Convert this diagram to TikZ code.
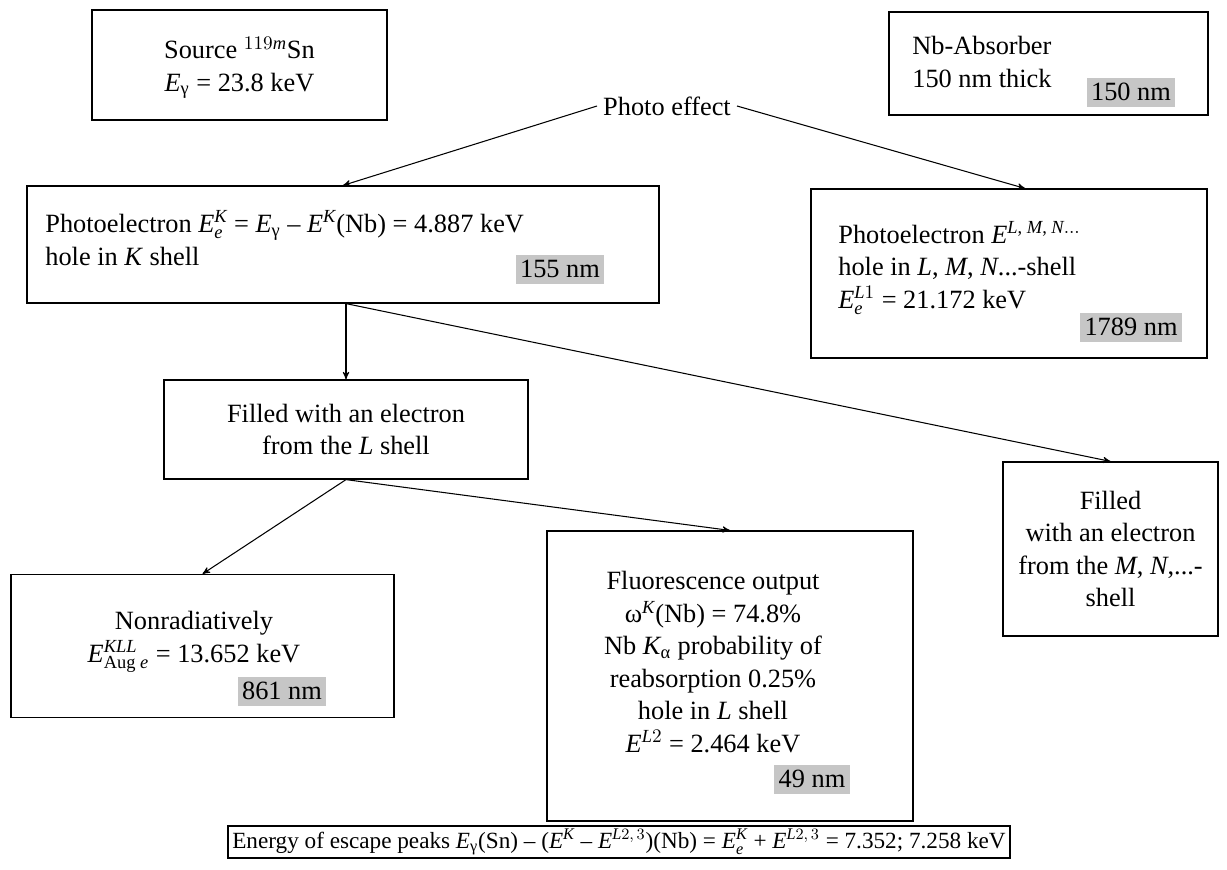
\documentclass[tikz,border=0pt]{standalone}
\usepackage{amsmath}
\usepackage{fontspec}
\setmainfont{Liberation Serif}
\usetikzlibrary{arrows}
\newcommand{\ivar}[1]{\textit{#1}}

\begin{document}
\begin{tikzpicture}[x=0.02cm, y=-0.02cm, font=\fontsize{15}{18.5}\selectfont]
  \tikzset{myedge/.style={->, line width=0.6pt, >=stealth'}};
  \tikzset{mybox/.style={draw, line width=0.7pt, align=center, inner sep=0pt}};
  \tikzset{mytext/.style={inner sep=0pt}};
  \tikzset{mytag/.style={fill=gray!45, inner xsep=2.5pt, inner ysep=0pt, minimum height=0.58cm}};
  \useasboundingbox (0,0) rectangle (1227,869);

  % boxes
  \node[mybox, minimum width=5.9cm, minimum height=2.2cm] (src) at (239.5,65) {};
  \node[mybox, minimum width=6.38cm, minimum height=2.06cm] (nbabs) at (1048.5,63.5) {};
  \node[mybox, minimum width=12.64cm, minimum height=2.34cm] (phK) at (343,244.5) {};
  \node[mybox, minimum width=7.92cm, minimum height=3.38cm] (phL) at (1009,273.5) {};
  \node[mybox, minimum width=7.28cm, minimum height=1.98cm] (fillL) at (346,429.5)
    {Filled with an electron\\from the \ivar{L} shell};
  \node[mybox, minimum width=7.66cm, minimum height=2.86cm] (nonrad) at (202.5,646) {};
  \node[mybox, minimum width=7.32cm, minimum height=5.8cm] (fluor) at (730,676) {};
  \node[mybox, minimum width=4.3cm, minimum height=3.48cm] (fillMN) at (1110.5,549)
    {Filled\\with an electron\\from the \ivar{M}, \ivar{N},...-\\shell};
  \node[mybox, minimum width=15.64cm, minimum height=0.64cm,
        font=\fontsize{13.2}{16}\selectfont] (esc) at (619,842)
    {Energy of escape peaks $\ivar{E}_{\text{γ}}$(Sn) – ($\ivar{E}^{\ivar{K}}$ – $\ivar{E}^{\ivar{L}2,\,3}$)(Nb)
     = $\ivar{E}^{\ivar{K}}_{\ivar{e}}$ + $\ivar{E}^{\ivar{L}2,\,3}$ = 7.352; 7.258 keV};

  % texts inside
  \node[mytext, align=center] (srctxt) at (239.5,68)
    {Source $^{119\ivar{m}}$Sn\\$\ivar{E}_{\text{γ}}$ = 23.8 keV};
  \node[mytext, anchor=west, align=left] (nbtxt) at (912,62) {Nb-Absorber\\150 nm thick};
  \node[mytext, anchor=west, align=left] (phKtxt) at (45,238)
    {Photoelectron $\ivar{E}^{\ivar{K}}_{\ivar{e}}$ = $\ivar{E}_{\text{γ}}$ – $\ivar{E}^{\ivar{K}}$(Nb) = 4.887 keV\\hole in \ivar{K} shell};
  \node[mytext, anchor=west, align=left] (phLtxt) at (838,268)
    {Photoelectron $\ivar{E}^{\ivar{L}\text{, }\ivar{M}\text{, }\ivar{N}...}$\\hole in \ivar{L}, \ivar{M}, \ivar{N}...-shell\\$\ivar{E}^{\ivar{L}1}_{\ivar{e}}$ = 21.172 keV};
  \node[mytext, align=center] (nrtxt) at (194,642)
    {Nonradiatively\\$\ivar{E}^{\ivar{KLL}}_{\text{Aug }\ivar{e}}$ = 13.652 keV};
  \node[mytext, align=center] (fltxt) at (713,662)
    {Fluorescence output\\ω$^{\ivar{K}}$(Nb) = 74.8\%\\Nb $\ivar{K}_{\text{α}}$\ probability of\\reabsorption 0.25\%\\hole in \ivar{L} shell\\$\ivar{E}^{\ivar{L}2}$ = 2.464 keV};
  \node (photo) at (667,106) {Photo effect};

  % gray tags
  \node[mytag] (t150) at (1131,92) {150 nm};
  \node[mytag] (t155) at (560,269) {155 nm};
  \node[mytag] (t1789) at (1131,327) {1789 nm};
  \node[mytag] (t861) at (282,691) {861 nm};
  \node[mytag] (t49) at (812,779) {49 nm};

  % arrows
  \coordinate (split) at (phK.south -| fillL.north);
  \draw[myedge] (photo.west) -- (phK.north);
  \draw[myedge] (photo.east) -- ([xshift=0.32cm]phL.north);
  \draw[myedge] (split) -- (fillL.north);
  \draw[myedge] (split) -- (fillMN.north);
  \draw[myedge] (fillL.south) -- (nonrad.north);
  \draw[myedge] (fillL.south) -- (fluor.north);
\end{tikzpicture}
\end{document}
